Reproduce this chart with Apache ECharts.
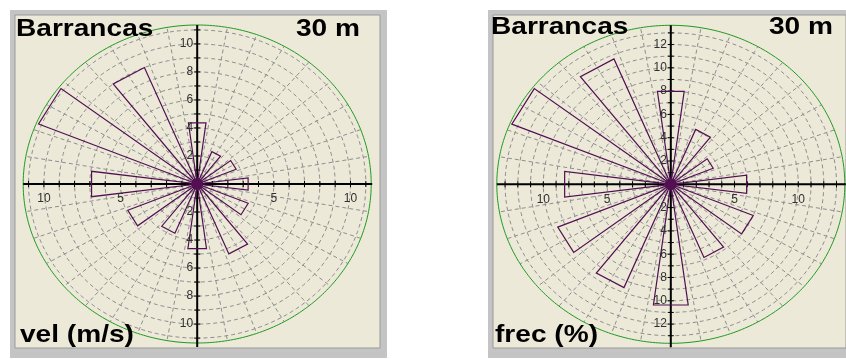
<!DOCTYPE html>
<html><head><meta charset="utf-8">
<script src="https://cdn.jsdelivr.net/npm/echarts@6/dist/echarts.min.js"></script>
<style>html,body{margin:0;padding:0;background:#fff}#c{width:846px;height:359px}</style>
</head><body><div id="c"></div>
<script>
// ---- data (compass direction in degrees, clockwise from North) ----
const directions = [0, 30, 60, 90, 120, 150, 180, 210, 240, 270, 300, 330];
const velValues  = [4.4, 2.5, 2.75, 3.35, 3.6, 5.4, 4.65, 3.8, 4.9, 6.95, 11.2, 9.0];
const frecValues = [8.05, 5.1, 3.6, 6.0, 7.0, 6.8, 10.45, 9.6, 9.6, 8.4, 13.5, 11.65];
const velMax = 11.35;
const frecMax = 13.65;
const velVTicks = [2, 4, 6, 8, 10];
const frecVTicks = [2, 4, 6, 8, 10, 12];
const hTicks = [5, 10];
const siteName = 'Barrancas';
const heightLabel = '30 m';
const velTitle = 'vel (m/s)';
const frecTitle = 'frec (%)';

const WEDGE_HALF = 7.5;
const PURPLE = '#520f52';
const GRIDC = '#8e8e8e';
const FONT = '"Liberation Sans", Arial, sans-serif';

function P(api, r, deg) {
  const a = deg * Math.PI / 180;
  return api.coord([r * Math.sin(a), r * Math.cos(a)]);
}

function panelSeries(idx, values, rmax, vticks) {
  const ringList = [];
  for (let k = 1; k <= Math.floor(rmax); k++) ringList.push(k);
  const spokeList = [];
  for (let a = 0; a < 360; a += 10) spokeList.push(a);
  const base = { type: 'custom', coordinateSystem: 'cartesian2d', xAxisIndex: idx, yAxisIndex: idx, silent: true, animation: false };
  return [
    Object.assign({}, base, {
      z: 2, data: ringList,
      renderItem: function (p, api) {
        const r = api.value(0); const pts = [];
        for (let a = 0; a <= 360; a += 2) pts.push(P(api, r, a));
        return { type: 'polyline', shape: { points: pts }, style: { stroke: GRIDC, lineWidth: 1, lineDash: [4, 3], fill: null } };
      }
    }),
    Object.assign({}, base, {
      z: 2, data: spokeList,
      renderItem: function (p, api) {
        const a = api.value(0);
        const s = P(api, 0, a), e = P(api, rmax, a);
        return { type: 'line', shape: { x1: s[0], y1: s[1], x2: e[0], y2: e[1] }, style: { stroke: GRIDC, lineWidth: 1, lineDash: [4, 3] } };
      }
    }),
    Object.assign({}, base, {
      z: 3, data: [rmax],
      renderItem: function (p, api) {
        const r = api.value(0); const pts = [];
        for (let a = 0; a <= 360; a += 1) pts.push(P(api, r, a));
        return { type: 'polyline', shape: { points: pts }, style: { stroke: '#1f9a1f', lineWidth: 1, fill: null } };
      }
    }),
    Object.assign({}, base, {
      z: 4, data: [rmax],
      renderItem: function (p, api) {
        const r = api.value(0);
        const l = api.coord([-r, 0]), rr = api.coord([r, 0]), t = api.coord([0, r]), b = api.coord([0, -r]);
        const ch = [];
        ch.push({ type: 'line', shape: { x1: l[0], y1: l[1], x2: rr[0] + 1, y2: rr[1] }, style: { stroke: '#000', lineWidth: 2 } });
        ch.push({ type: 'line', shape: { x1: t[0], y1: t[1], x2: b[0], y2: b[1] + 4 }, style: { stroke: '#000', lineWidth: 2 } });
        for (let k = -Math.floor(r); k <= Math.floor(r); k++) {
          if (k === 0) continue;
          const hx = api.coord([k, 0]);
          ch.push({ type: 'line', shape: { x1: hx[0], y1: hx[1] - 3, x2: hx[0], y2: hx[1] + 3 }, style: { stroke: '#000', lineWidth: 1 } });
          const vy = api.coord([0, k]);
          ch.push({ type: 'line', shape: { x1: vy[0] - 3, y1: vy[1], x2: vy[0] + 3, y2: vy[1] }, style: { stroke: '#000', lineWidth: 1 } });
        }
        return { type: 'group', children: ch };
      }
    }),
    Object.assign({}, base, {
      z: 6, data: directions.map((d, i) => [d, values[i]]),
      renderItem: function (p, api) {
        const d = api.value(0), r = api.value(1);
        const c = P(api, 0, d), a = P(api, r, d - WEDGE_HALF), b = P(api, r, d + WEDGE_HALF);
        return { type: 'polygon', shape: { points: [c, a, b] }, style: { stroke: PURPLE, lineWidth: 1.2, fill: null } };
      }
    }),
    Object.assign({}, base, {
      z: 7, data: [0],
      renderItem: function (p, api) {
        const c = api.coord([0, 0]);
        return { type: 'circle', shape: { cx: c[0], cy: c[1], r: 6 }, style: { fill: PURPLE } };
      }
    }),
    Object.assign({}, base, {
      z: 8, data: vticks,
      renderItem: function (p, api) {
        const v = api.value(0);
        const up = api.coord([0, v]), dn = api.coord([0, -v]);
        const st = { text: String(v), fill: '#303030', font: '12px ' + FONT, align: 'right', verticalAlign: 'middle', textAlign: 'right', textVerticalAlign: 'middle' };
        return { type: 'group', children: [
          { type: 'text', x: up[0] - 4, y: up[1], style: Object.assign({}, st) },
          { type: 'text', x: dn[0] - 4, y: dn[1], style: Object.assign({}, st) }
        ] };
      }
    }),
    Object.assign({}, base, {
      z: 8, data: hTicks,
      renderItem: function (p, api) {
        const v = api.value(0);
        const le = api.coord([-v, 0]), ri = api.coord([v, 0]);
        const st = { text: String(v), fill: '#303030', font: '12px ' + FONT, align: 'center', verticalAlign: 'middle', textAlign: 'center', textVerticalAlign: 'middle' };
        return { type: 'group', children: [
          { type: 'text', x: le[0], y: le[1] + 15, style: Object.assign({}, st) },
          { type: 'text', x: ri[0], y: ri[1] + 15, style: Object.assign({}, st) }
        ] };
      }
    })
  ];
}

function titleText(txt, x, y) {
  return { type: 'text', x: x, y: y, z: 100, scaleX: 1.17, style: { text: txt, font: 'bold 24px ' + FONT, fill: '#000', align: 'left', verticalAlign: 'middle', textAlign: 'left', textVerticalAlign: 'middle' } };
}

const chart = echarts.init(document.getElementById('c'), null, { renderer: 'canvas' });
const axisCommon = { show: false, type: 'value' };
chart.setOption({
  backgroundColor: '#ffffff',
  animation: false,
  grid: [
    { left: 23.2, top: 25, width: 348, height: 318 },
    { left: 496.8, top: 25.3, width: 348, height: 318 }
  ],
  xAxis: [
    Object.assign({}, axisCommon, { gridIndex: 0, min: -velMax, max: velMax }),
    Object.assign({}, axisCommon, { gridIndex: 1, min: -frecMax, max: frecMax })
  ],
  yAxis: [
    Object.assign({}, axisCommon, { gridIndex: 0, min: -velMax, max: velMax }),
    Object.assign({}, axisCommon, { gridIndex: 1, min: -frecMax, max: frecMax })
  ],
  graphic: [
    { type: 'rect', z: -10, shape: { x: 10, y: 10, width: 377, height: 348 }, style: { fill: '#c4c4c4' } },
    { type: 'rect', z: -9, shape: { x: 15, y: 15, width: 365, height: 333 }, style: { fill: '#ece9d8', stroke: '#9a9a9a', lineWidth: 1 } },
    { type: 'rect', z: -10, shape: { x: 488, y: 10, width: 358, height: 348 }, style: { fill: '#c4c4c4' } },
    { type: 'rect', z: -9, shape: { x: 493, y: 15, width: 353, height: 333 }, style: { fill: '#ece9d8', stroke: '#9a9a9a', lineWidth: 1 } },
    titleText(siteName, 16, 29),
    titleText(heightLabel, 296, 29),
    titleText(velTitle, 20, 335),
    titleText(siteName, 491, 27),
    titleText(heightLabel, 769, 27),
    titleText(frecTitle, 495, 335)
  ],
  series: [].concat(panelSeries(0, velValues, velMax, velVTicks), panelSeries(1, frecValues, frecMax, frecVTicks))
});
</script>
</body></html>
